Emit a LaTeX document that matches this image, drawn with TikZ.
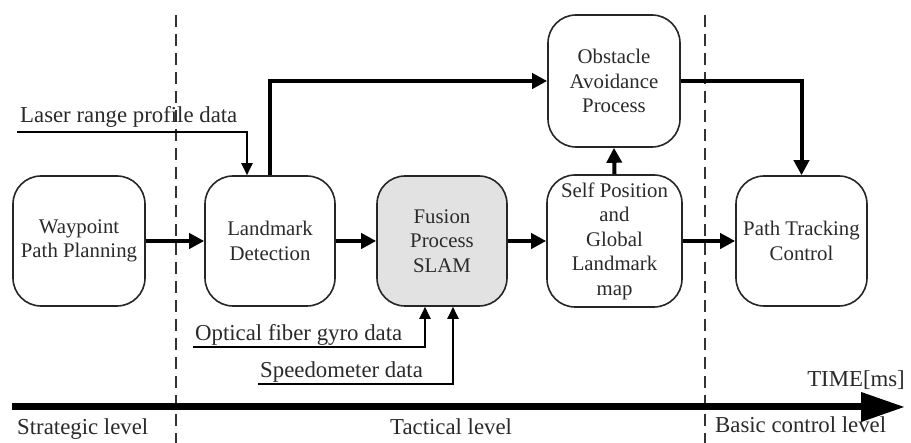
\documentclass[tikz,border=0pt]{standalone}
\usepackage{fontspec}
\setmainfont{Liberation Serif}
\usetikzlibrary{arrows.meta,calc}
\definecolor{txt}{HTML}{2A2A2A}
\definecolor{fusiongray}{HTML}{E2E2E2}
\tikzset{
  proc/.style={draw=black!85, line width=1.6pt, rounded corners=28pt, fill=white,
    minimum width=#1, minimum height=130pt, inner sep=0pt, align=center,
    text=txt, font=\fontsize{20.8}{24.5}\selectfont},
  proc/.default=132pt,
  lbl/.style={text=txt, inner sep=0pt, font=\fontsize{22.8}{26}\selectfont},
  bigflow/.style={line width=4pt, -{Triangle[length=15pt,width=15pt]}},
  thinflow/.style={line width=2.2pt, -{Triangle[length=12pt,width=11pt]}},
  levelsep/.style={line width=1.6pt, black!80, dash pattern=on 12pt off 7pt},
}
\begin{document}
\begin{tikzpicture}[x=1pt,y=-1pt]
\useasboundingbox[fill=white] (0,0) rectangle (911,443);

% level separators
\draw[levelsep] (176,15) -- (176,443);
\draw[levelsep] (705,15) -- (705,443);

% boxes
\node[proc=132pt] (wp) at (79,241) {Waypoint\\Path Planning};
\node[proc=130pt] (lm) at (270,241) {Landmark\\Detection};
\node[proc=130pt, fill=fusiongray] (fu) at (442,241) {Fusion\\Process\\SLAM};
\node[proc=135pt, minimum height=132pt] (sp) at (614.5,241) {Self Position\\and\\Global\\Landmark\\map};
\node[proc=131pt] (pt) at (801.5,241) {Path Tracking\\Control};
\node[proc=132pt, minimum height=132pt] (obs) at (614,81) {Obstacle\\Avoidance\\Process};

% main flow
\draw[bigflow] (wp) -- (lm);
\draw[bigflow] (lm) -- (fu);
\draw[bigflow] (fu) -- (sp);
\draw[bigflow] (sp) -- (pt);
\draw[bigflow] (lm.north) |- (obs.west);
\draw[bigflow] (obs.east) -| (pt.north);
\draw[bigflow] (sp.north) -- (obs.south);

% sensor inputs
\coordinate (laserin) at (17,132);
\node[lbl, anchor=base west] (laserlbl) at (20,123) {Laser range profile data};
\draw[thinflow] (laserin) -| ($(lm.north)+(-23,0)$);

\coordinate (gyroin) at (193,347);
\node[lbl, anchor=base west] (gyrolbl) at (195,341) {Optical fiber gyro data};
\draw[thinflow] (gyroin) -| ($(fu.south)+(-17,0)$);

\coordinate (speedin) at (258,384);
\node[lbl, anchor=base west] (speedlbl) at (260,378) {Speedometer data};
\draw[thinflow] (speedin) -| ($(fu.south)+(11,0)$);

% time axis
\coordinate (tstart) at (12,407);
\coordinate (tend) at (905,407);
\draw[line width=7pt, -{Triangle[length=44pt,width=28pt]}] (tstart) -- (tend);
\node[lbl, anchor=base east] (timelbl) at (905,387) {TIME[ms]};

% levels
\node[lbl, anchor=base west] (strat) at (17,435) {Strategic level};
\node[lbl, anchor=base west] (tact) at (390,435) {Tactical level};
\node[lbl, anchor=base west] (basic) at (715,433) {Basic control level};
\end{tikzpicture}
\end{document}
